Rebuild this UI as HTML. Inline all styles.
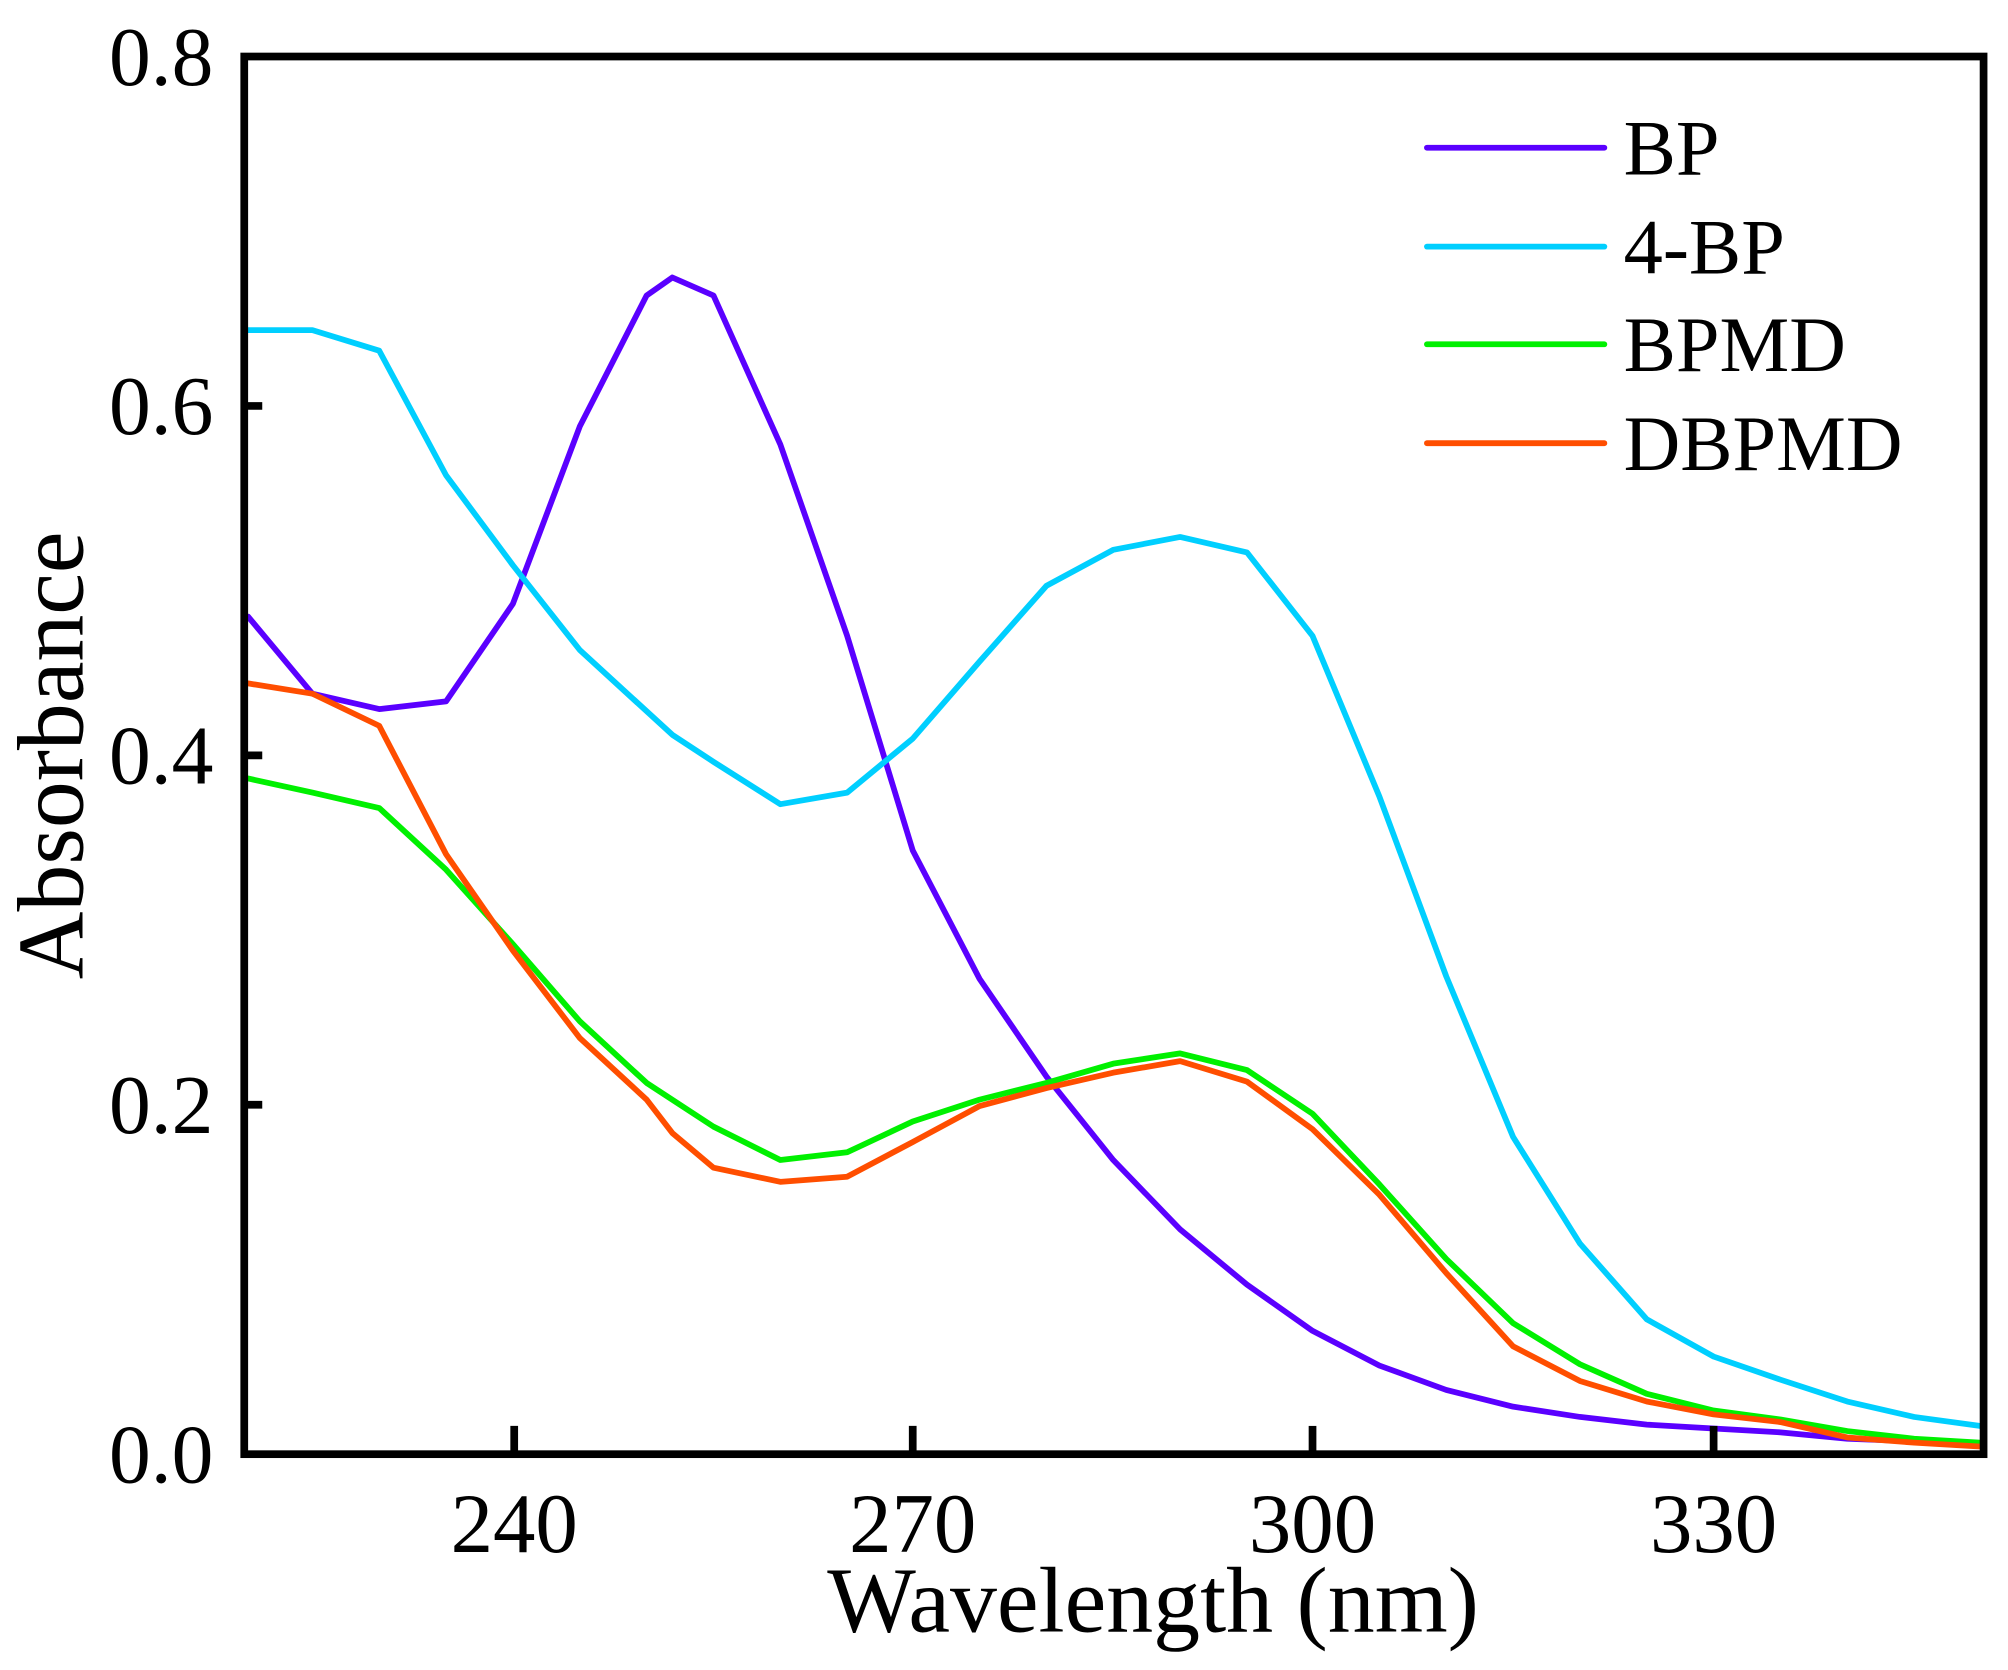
<!DOCTYPE html>
<html><head><meta charset="utf-8"><style>html,body{margin:0;padding:0;background:#fff}svg{display:block}</style></head>
<body>
<svg width="2008" height="1670" viewBox="0 0 1562 1300" preserveAspectRatio="none" xmlns="http://www.w3.org/2000/svg">
<rect width="1562" height="1300" fill="#fff"/>
<g font-family="Liberation Serif, serif" fill="#000">
<g font-size="65" text-anchor="end">
<text x="166" y="1154">0.0</text>
<text x="166" y="882">0.2</text>
<text x="166" y="610">0.4</text>
<text x="166" y="338">0.6</text>
<text x="166" y="66">0.8</text>
</g>
<g font-size="66" text-anchor="middle">
<text x="400" y="1208">240</text>
<text x="710" y="1208">270</text>
<text x="1021" y="1208">300</text>
<text x="1333" y="1208">330</text>
</g>
<text x="897" y="1270" font-size="73" text-anchor="middle">Wavelength (nm)</text>
<text transform="translate(64,588) rotate(-90)" font-size="73" text-anchor="middle">Absorbance</text>
<g font-size="61">
<text x="1263" y="136">BP</text>
<text x="1263" y="213">4-BP</text>
<text x="1263" y="289">BPMD</text>
<text x="1263" y="366">DBPMD</text>
</g>
</g>
<g fill="none" stroke-width="4.5" stroke-linejoin="round" stroke-linecap="round">
<line x1="1110" y1="115" x2="1248" y2="115" stroke="#5a00ff"/>
<line x1="1110" y1="192" x2="1248" y2="192" stroke="#00cfff"/>
<line x1="1110" y1="268" x2="1248" y2="268" stroke="#00f000"/>
<line x1="1110" y1="345" x2="1248" y2="345" stroke="#ff4e00"/>
<polyline stroke="#5a00ff" points="193,480 243,540 295,552 347,546 399,470 451,332 503,230 523,216 555,230 607,346 659,495 710,662 762,762 814,838 866,903 918,957 970,1000 1021,1036 1073,1063 1125,1082 1177,1095 1229,1103 1281,1109 1333,1112 1385,1115 1437,1120 1489,1122 1540,1124"/>
<polyline stroke="#00cfff" points="193,257 243,257 295,273 347,370 399,440 451,506 523,572 555,593 607,626 659,617 710,575 762,515 814,456 866,428 918,418 970,430 1021,495 1073,620 1125,760 1177,885 1229,968 1281,1027 1333,1056 1385,1074 1437,1091 1489,1103 1540,1110"/>
<polyline stroke="#00f000" points="193,606 243,617 295,629 347,677 399,735 451,795 503,843 555,877 607,903 659,897 710,873 762,856 814,843 866,828 918,820 970,833 1021,867 1073,922 1125,980 1177,1030 1229,1062 1281,1085 1333,1098 1385,1105 1437,1114 1489,1120 1540,1123"/>
<polyline stroke="#ff4e00" points="193,532 243,540 295,565 347,665 399,740 451,808 503,856 523,882 555,909 607,920 659,916 710,889 762,861 814,847 866,835 918,826 970,842 1021,879 1073,930 1125,991 1177,1048 1229,1075 1281,1091 1333,1101 1385,1107 1437,1119 1489,1123 1540,1126"/>
</g>
<g stroke="#000" stroke-width="6" fill="none">
<rect x="190" y="44" width="1353" height="1088"/>
<line x1="190" y1="860" x2="204" y2="860"/>
<line x1="190" y1="588" x2="204" y2="588"/>
<line x1="190" y1="316" x2="204" y2="316"/>
<line x1="400" y1="1132" x2="400" y2="1110"/>
<line x1="710" y1="1132" x2="710" y2="1110"/>
<line x1="1021" y1="1132" x2="1021" y2="1110"/>
<line x1="1333" y1="1132" x2="1333" y2="1110"/>
</g>
</svg>
</body></html>
